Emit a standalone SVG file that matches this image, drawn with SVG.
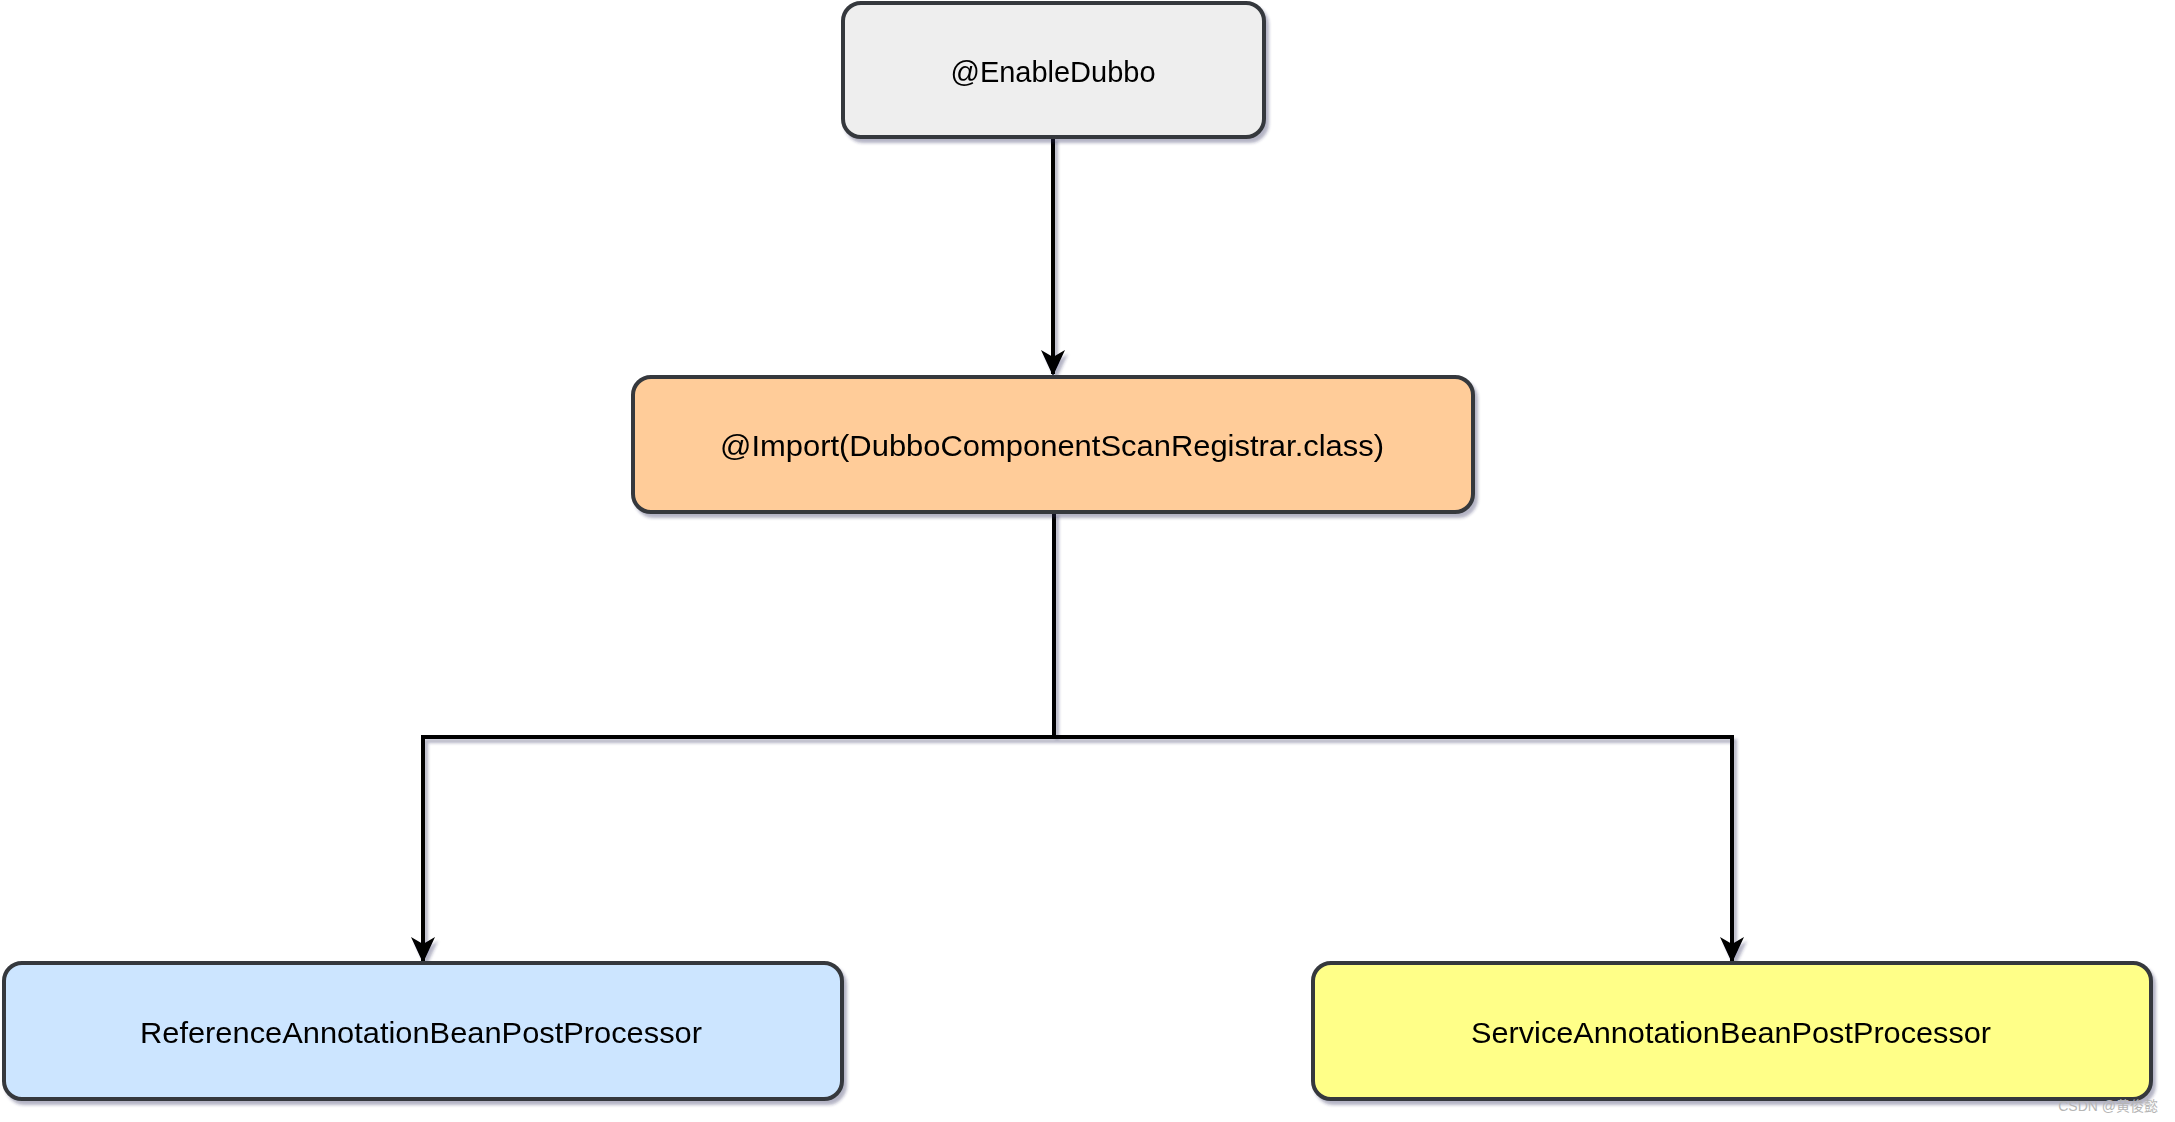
<svg xmlns="http://www.w3.org/2000/svg" width="2175" height="1122" viewBox="0 0 2175 1122">
<style>
.box{stroke:#36393d;stroke-width:4;}
.lbl{font-family:"Comic Sans MS","Liberation Sans",sans-serif;font-size:30px;fill:#000;text-anchor:middle;}
.edge{fill:none;stroke:#000;stroke-width:4;}
</style>
<defs>
<filter id="sh" x="-5%" y="-5%" width="110%" height="120%">
<feDropShadow dx="3" dy="4" stdDeviation="1.5" flood-color="#2a2f5a" flood-opacity="0.35"/>
</filter>
<marker id="arr" viewBox="0 0 26 26" markerWidth="26" markerHeight="26" refX="24" refY="13" orient="auto" markerUnits="userSpaceOnUse">
<path d="M0,1 L26,13 L0,25 L7,13 Z" fill="#000"/>
</marker>
</defs>
<rect width="2175" height="1122" fill="#fff"/>
<g id="connectors" filter="url(#sh)">
<path class="edge" d="M1053,137 L1053,374" marker-end="url(#arr)"/>
<path class="edge" d="M1054,512 L1054,737 L423,737 L423,961" marker-end="url(#arr)"/>
<path class="edge" d="M1054,737 L1732,737 L1732,961" marker-end="url(#arr)"/>
</g>
<g id="enableDubbo" filter="url(#sh)">
<rect class="box" x="843" y="3" width="421" height="134" rx="18" fill="#eeeeee"/>
<text class="lbl" x="1053" y="82" textLength="205" lengthAdjust="spacingAndGlyphs">@EnableDubbo</text>
</g>
<g id="import" filter="url(#sh)">
<rect class="box" x="633" y="377" width="840" height="135" rx="18" fill="#ffcc99"/>
<text class="lbl" x="1052" y="456" textLength="664" lengthAdjust="spacingAndGlyphs">@Import(DubboComponentScanRegistrar.class)</text>
</g>
<g id="reference" filter="url(#sh)">
<rect class="box" x="4" y="963" width="838" height="136" rx="18" fill="#cce5ff"/>
<text class="lbl" x="421" y="1043" textLength="562" lengthAdjust="spacingAndGlyphs">ReferenceAnnotationBeanPostProcessor</text>
</g>
<g id="service" filter="url(#sh)">
<rect class="box" x="1313" y="963" width="838" height="136" rx="18" fill="#ffff88"/>
<text class="lbl" x="1731" y="1043" textLength="520" lengthAdjust="spacingAndGlyphs">ServiceAnnotationBeanPostProcessor</text>
</g>
<text x="2158" y="1111" text-anchor="end" font-family="'Liberation Sans','Noto Sans CJK SC',sans-serif" font-size="14" fill="#b5b5b5">CSDN @黄俊懿</text>
</svg>
